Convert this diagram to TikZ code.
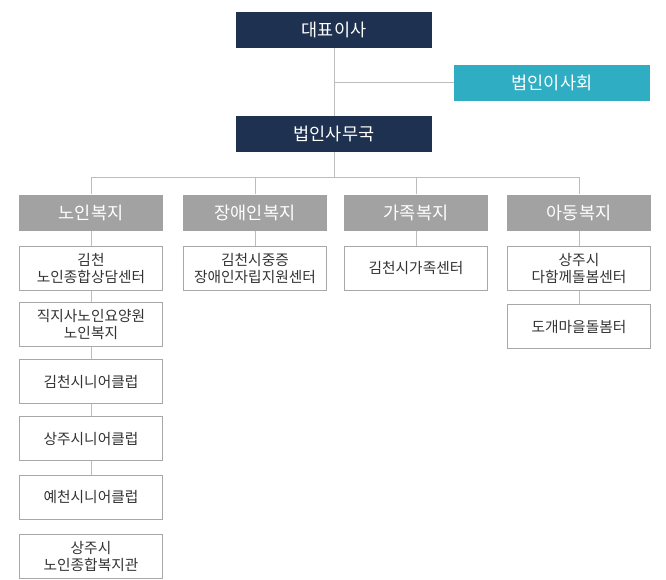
\documentclass[tikz,border=0pt]{standalone}
\usepackage{fontspec}
\setmainfont{Noto Sans CJK KR}
\usepackage{xcolor}
\definecolor{navy}{HTML}{1F3150}
\definecolor{teal}{HTML}{2FADC3}
\definecolor{catgray}{HTML}{A2A2A2}
\definecolor{linegray}{HTML}{BDBDBD}
\definecolor{boxline}{HTML}{A8A8A8}
\definecolor{txt}{HTML}{333333}

\begin{document}
\begin{tikzpicture}[
			x=1pt, y=-1pt,
			headbox/.style={rectangle,fill=navy,text=white,inner sep=0pt,
			minimum width=196pt,minimum height=36pt,
			font=\fontsize{17.5}{20}\selectfont},
			boardbox/.style={headbox,fill=teal},
			catbox/.style={rectangle,fill=catgray,text=white,inner sep=0pt,
			minimum width=144pt,minimum height=36pt,
			font=\fontsize{17.5}{20}\selectfont},
			unitbox/.style={rectangle,draw=boxline,fill=white,text=txt,
			line width=1pt,inner sep=0pt,align=center,
			minimum width=143pt,minimum height=44pt,
			font=\fontsize{14.7}{17}\selectfont},
			link/.style={draw=linegray,line width=1pt}
			]
			\useasboundingbox (0,0) rectangle (666,580);
			% top
			\node[headbox] (ceo) at (334,30) {대표이사};
			\node[boardbox] (board) at (552,83) {법인이사회};
			\node[headbox] (office) at (334,134) {법인사무국};
			\coordinate (bus) at (334,178);
			% departments
			\node[catbox] (elder) at (91,212.5) {노인복지};
			\node[catbox] (disab) at (255,212.5) {장애인복지};
			\node[catbox] (family) at (416,212.5) {가족복지};
			\node[catbox] (child) at (579,212.5) {아동복지};
			% elder units
			\node[unitbox] (e1) at (91,268.5) {김천\\노인종합상담센터};
			\node[unitbox] (e2) at (91,324.5) {직지사노인요양원\\노인복지};
			\node[unitbox] (e3) at (91,381.5) {김천시니어클럽};
			\node[unitbox] (e4) at (91,438.5) {상주시니어클럽};
			\node[unitbox] (e5) at (91,497) {예천시니어클럽};
			\node[unitbox] (e6) at (91,556) {상주시\\노인종합복지관};
			% other units
			\node[unitbox] (d1) at (255,268.5) {김천시중증\\장애인자립지원센터};
			\node[unitbox] (f1) at (416,268.5) {김천시가족센터};
			\node[unitbox] (c1) at (579,268.5) {상주시\\다함께돌봄센터};
			\node[unitbox] (c2) at (579,326.5) {도개마을돌봄터};
			% connectors
			\draw[link] (ceo.south) -- (office.north);
			\draw[link] (board.west) -- (board.west -| ceo.south);
			\draw[link] (office.south) -- (bus);
			\draw[link] (bus) -| (elder.north);
			\draw[link] (bus) -| (disab.north);
			\draw[link] (bus) -| (family.north);
			\draw[link] (bus) -| (child.north);
			\draw[link] (elder.south) -- (e1.north);
			\draw[link] (e1.south) -- (e2.north);
			\draw[link] (e2.south) -- (e3.north);
			\draw[link] (e3.south) -- (e4.north);
			\draw[link] (e4.south) -- (e5.north);
			\draw[link] (disab.south) -- (d1.north);
			\draw[link] (family.south) -- (f1.north);
			\draw[link] (child.south) -- (c1.north);
			\draw[link] (c1.south) -- (c2.north);
		\end{tikzpicture}
\end{document}
